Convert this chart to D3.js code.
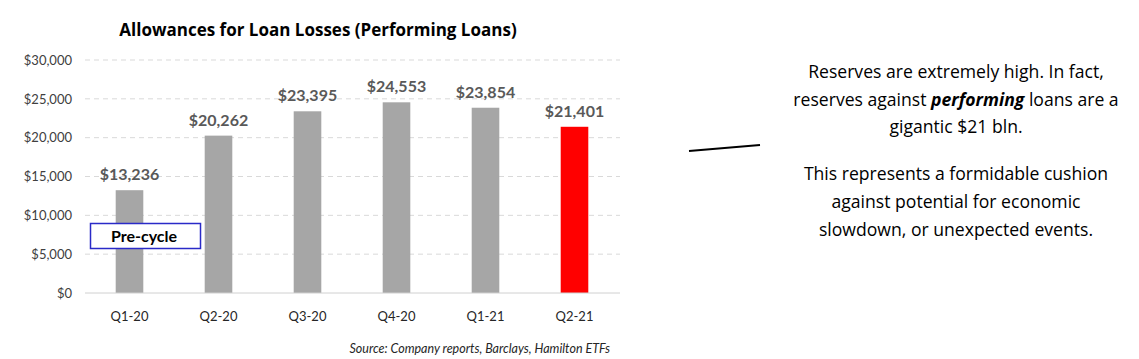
<!DOCTYPE html>
<html><head><meta charset="utf-8">
<script src="https://cdn.jsdelivr.net/npm/d3@7"></script>
<style>
body{margin:0;background:#fff;}
svg{display:block;font-family:"Lato","Open Sans",sans-serif;}
</style></head>
<body>
<svg id="chart" width="1139" height="359"></svg>
<script>
const categories = ["Q1-20","Q2-20","Q3-20","Q4-20","Q1-21","Q2-21"];
const values = [13236,20262,23395,24553,23854,21401];
const barColors = ["#a6a6a6","#a6a6a6","#a6a6a6","#a6a6a6","#a6a6a6","#ff0000"];
const yTicks = [0,5000,10000,15000,20000,25000,30000];
const title = "Allowances for Loan Losses (Performing Loans)";
const source = "Source: Company reports, Barclays, Hamilton ETFs";
const para1 = [["Reserves are extremely high. In fact,"],["reserves against ", "performing", " loans are a"],["gigantic $21 bln."]];
const para2 = ["This represents a formidable cushion","against potential for economic","slowdown, or unexpected events."];

const svg = d3.select("#chart");
const x = d3.scaleBand().domain(categories).range([85,619]).paddingInner(0.69).paddingOuter(0.345);
const y = d3.scaleLinear().domain([0,30000]).range([293,60]);
const fmt = d => "$" + d3.format(",")(d);

// grid
svg.append("g").selectAll("line").data(yTicks.filter(d=>d>0)).join("line")
  .attr("x1",85).attr("x2",620).attr("y1",d=>y(d)).attr("y2",d=>y(d))
  .attr("stroke","#d9d9d9").attr("stroke-width",1).attr("stroke-dasharray","5,4");

// y axis labels
const yAxis = d3.axisLeft(y).tickValues(yTicks).tickFormat(fmt).tickSize(0).tickPadding(0);
const yg = svg.append("g").attr("transform","translate(72,0)").call(yAxis);
yg.select(".domain").remove();
yg.selectAll("text").attr("font-size","13px").attr("fill","#404040").attr("font-family","Lato, sans-serif");

// bars
svg.append("g").selectAll("rect").data(values).join("rect")
  .attr("x",(d,i)=>x(categories[i])).attr("width",x.bandwidth())
  .attr("y",d=>y(d)).attr("height",d=>y(0)-y(d))
  .attr("fill",(d,i)=>barColors[i]);

// baseline
svg.append("line").attr("x1",85).attr("x2",620).attr("y1",y(0)).attr("y2",y(0))
  .attr("stroke","#d0d0d0").attr("stroke-width",1);

// x axis labels
const xAxis = d3.axisBottom(x).tickSize(0).tickPadding(0);
const xg = svg.append("g").attr("transform","translate(0,312)").call(xAxis);
xg.select(".domain").remove();
xg.selectAll("text").attr("font-size","13px").attr("fill","#262626").attr("font-family","Lato, sans-serif");

// value labels
svg.append("g").selectAll("text").data(values).join("text")
  .attr("x",(d,i)=>x(categories[i])+x.bandwidth()/2).attr("y",d=>y(d)-10)
  .attr("text-anchor","middle").attr("font-size","16px").attr("font-weight","bold")
  .attr("fill","#595959").text(fmt);

// title
svg.append("text").attr("x",318).attr("y",36).attr("text-anchor","middle")
  .attr("font-family","'Open Sans', sans-serif")
  .attr("font-size","17px").attr("font-weight","bold").attr("fill","#000").text(title);

// pre-cycle box
svg.append("rect").attr("x",90.5).attr("y",223.5).attr("width",110).attr("height",25)
  .attr("fill","#fff").attr("stroke","#2a2ac8").attr("stroke-width",1.5);
svg.append("text").attr("x",144).attr("y",241.5).attr("text-anchor","middle")
  .attr("font-size","16px").attr("font-weight","bold").attr("fill","#000").text("Pre-cycle");

// source
svg.append("text").attr("x",610).attr("y",353).attr("text-anchor","end")
  .attr("font-size","12.5px").attr("font-style","italic").attr("fill","#262626").text(source);

// connector line
svg.append("line").attr("x1",689).attr("y1",151).attr("x2",760).attr("y2",145)
  .attr("stroke","#000").attr("stroke-width",2);

// right text
const cx = 956;
const t1 = svg.append("g").attr("font-size","17.6px").attr("fill","#000").attr("font-family","'Open Sans', sans-serif");
para1.forEach((parts,i)=>{
  const t = t1.append("text").attr("x",cx).attr("y",78+i*27.5).attr("text-anchor","middle");
  parts.forEach((p,j)=>{
    const ts = t.append("tspan").text(p);
    if (p==="performing") ts.attr("font-weight","bold").attr("font-style","italic");
  });
});
para2.forEach((s,i)=>{
  t1.append("text").attr("x",cx).attr("y",180+i*28).attr("text-anchor","middle").text(s);
});
</script>
</body></html>
